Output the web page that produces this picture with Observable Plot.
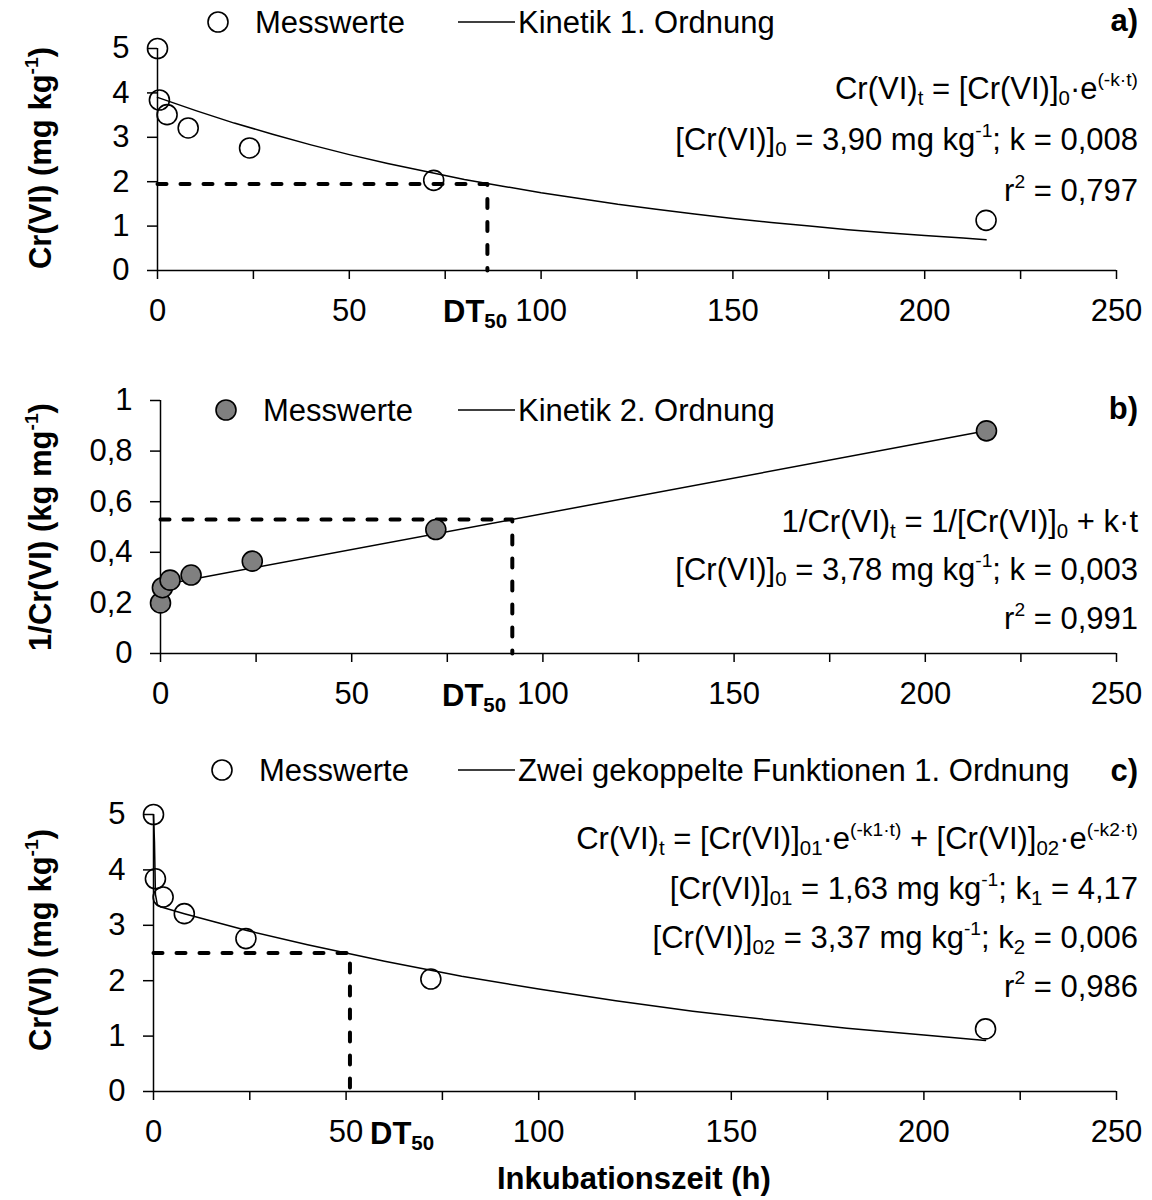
<!DOCTYPE html>
<html><head><meta charset="utf-8">
<script src="https://cdn.jsdelivr.net/npm/d3@7"></script>
<script src="https://cdn.jsdelivr.net/npm/@observablehq/plot@0.6"></script>
<style>
body{margin:0;background:#fff;}
#wrap{position:relative;width:1152px;height:1200px;font-family:"Liberation Sans",Arial,sans-serif;color:#000;overflow:hidden;}
.panel{position:absolute;left:0;}
.t{position:absolute;white-space:nowrap;font-size:31px;line-height:1;}
.b{font-weight:bold;}
.t sub{font-size:0.66em;vertical-align:-0.3em;line-height:0;}
.t sup{font-size:0.62em;vertical-align:0.66em;line-height:0;}
.ylab{position:absolute;white-space:nowrap;font-size:31px;font-weight:bold;line-height:1;transform:translate(-50%,-50%) rotate(-90deg);}
.ylab sup{font-size:0.62em;vertical-align:0.66em;line-height:0;}
.sym{position:absolute;}
</style></head>
<body><div id="wrap"></div>
<script>
// ---- data ----
const xTicks = [0, 25, 50, 75, 100, 125, 150, 175, 200, 225, 250];
const yTicksCr = [0, 1, 2, 3, 4, 5];
const yTicksInv = [0, 0.2, 0.4, 0.6, 0.8, 1];

// measured values (incubation time in h)
const timesMeas = [0, 0.5, 2.5, 8, 24, 72, 216];
const crMeas = [5.00, 3.84, 3.51, 3.21, 2.76, 2.03, 1.13];
const invCrMeas = [0.20, 0.26, 0.29, 0.31, 0.365, 0.49, 0.88];

// a) first order fit curve
const fitTimesA = [0, 10, 20, 30, 40, 50, 60, 70, 80, 90, 100, 110, 120, 130, 140, 150, 160, 170, 180, 190, 200, 210, 216];
const fitA = [3.90, 3.60, 3.32, 3.07, 2.83, 2.61, 2.41, 2.23, 2.05, 1.90, 1.75, 1.62, 1.49, 1.38, 1.27, 1.17, 1.08, 1.00, 0.92, 0.85, 0.79, 0.73, 0.69];
// b) second order fit line
const fitTimesB = [0, 216];
const fitB = [0.27, 0.88];
// c) two coupled first order functions
const fitTimesC = [0, 0.25, 0.5, 1, 2, 8, 16, 24, 40, 60, 80, 100, 120, 140, 160, 180, 200, 216];
const fitC = [5.00, 4.51, 3.56, 3.37, 3.33, 3.21, 3.06, 2.91, 2.65, 2.35, 2.08, 1.85, 1.64, 1.45, 1.29, 1.14, 1.02, 0.92];

// DT50 (time, level)
const dt50A = [86, 1.95];
const dt50B = [92, 0.53];
const dt50C = [51, 2.50];

const font = '"Liberation Sans", Arial, sans-serif';
const fmt = d => String(d).replace(".", ",");

function makePanel(o) {
  const meas = timesMeas.map((t, i) => ({t, v: o.meas[i]}));
  const fit = o.fitT.map((t, i) => ({t, v: o.fitV[i]}));
  const dt = [{t: 0, v: o.dt[1]}, {t: o.dt[0], v: o.dt[1]}, {t: o.dt[0], v: 0}];
  return Plot.plot({
    width: 1152, height: o.h,
    marginLeft: o.ml, marginRight: 36, marginTop: o.mt, marginBottom: o.h - o.y0,
    style: {fontFamily: font, fontSize: "31px", color: "#000", background: "transparent", overflow: "visible"},
    x: {domain: [0, 250]},
    y: {domain: o.yDomain},
    marks: [
      Plot.axisX({ticks: xTicks, tickFormat: d => d % 50 === 0 ? String(d) : "", tickSize: 9, tickPadding: 19, fontSize: 31, label: null, strokeWidth: 1.5}),
      Plot.axisY({ticks: o.yTicks, tickFormat: fmt, tickSize: 10, tickPadding: 18, fontSize: 31, label: null, strokeWidth: 1.5}),
      Plot.ruleY([0], {stroke: "#000", strokeWidth: 1.5}),
      Plot.ruleX([0], {stroke: "#000", strokeWidth: 1.5}),
      Plot.line(dt, {x: "t", y: "v", stroke: "#000", strokeWidth: 4, strokeDasharray: "9,14"}),
      Plot.line(fit, {x: "t", y: "v", stroke: "#000", strokeWidth: 1.5}),
      Plot.dot(meas, {x: "t", y: "v", r: 10, stroke: "#000", strokeWidth: 1.6, fill: o.fill})
    ]
  });
}

const wrap = document.getElementById("wrap");
const panels = [
  {top: 0, h: 340, ml: 157, mt: 48, y0: 270, yDomain: [0, 5], yTicks: yTicksCr, meas: crMeas, fitT: fitTimesA, fitV: fitA, dt: dt50A, fill: "none"},
  {top: 340, h: 380, ml: 160, mt: 60, y0: 313, yDomain: [0, 1], yTicks: yTicksInv, meas: invCrMeas, fitT: fitTimesB, fitV: fitB, dt: dt50B, fill: "#808080"},
  {top: 720, h: 480, ml: 153, mt: 94, y0: 371, yDomain: [0, 5], yTicks: yTicksCr, meas: crMeas, fitT: fitTimesC, fitV: fitC, dt: dt50C, fill: "none"}
];
for (const p of panels) {
  const svg = makePanel(p);
  svg.classList.add("panel");
  svg.style.top = p.top + "px";
  wrap.appendChild(svg);
}

// ---- text overlays ----
function txt(html, {left, right, cy, size = 31, bold = false}) {
  const d = document.createElement("div");
  d.className = "t" + (bold ? " b" : "");
  d.innerHTML = html;
  d.style.fontSize = size + "px";
  d.style.top = (cy - 0.49 * size) + "px";
  if (left != null) d.style.left = left + "px";
  if (right != null) d.style.right = (1152 - right) + "px";
  wrap.appendChild(d);
}
function ylab(html, cx, cy, size = 31) {
  const d = document.createElement("div");
  d.className = "ylab";
  d.innerHTML = html;
  d.style.fontSize = size + "px";
  d.style.left = cx + "px";
  d.style.top = cy + "px";
  wrap.appendChild(d);
}
const sym = d3.select(wrap).append("svg").attr("class", "sym").attr("width", 1152).attr("height", 1200)
  .style("left", "0px").style("top", "0px").style("pointer-events", "none");
function legend(cy, fill, label, cx) {
  sym.append("circle").attr("cx", cx).attr("cy", cy).attr("r", 10).attr("fill", fill).attr("stroke", "#000").attr("stroke-width", 1.6);
  sym.append("line").attr("x1", 458).attr("x2", 515).attr("y1", cy).attr("y2", cy).attr("stroke", "#000").attr("stroke-width", 1.5);
  txt("Messwerte", {left: cx + 37, cy});
  txt(label, {left: 518, cy});
}

// panel a
legend(22, "white", "Kinetik 1. Ordnung", 218);
txt("a)", {right: 1138, cy: 20, bold: true});
txt("Cr(VI)<sub>t</sub> = [Cr(VI)]<sub>0</sub>·e<sup>(-k·t)</sup>", {right: 1138, cy: 88});
txt("[Cr(VI)]<sub>0</sub> = 3,90 mg kg<sup>-1</sup>; k = 0,008", {right: 1138, cy: 139});
txt("r<sup>2</sup> = 0,797", {right: 1138, cy: 190});
txt("DT<sub>50</sub>", {left: 443, cy: 311, bold: true});
ylab("Cr(VI) (mg kg<sup>-1</sup>)", 40, 158);

// panel b
legend(410, "#808080", "Kinetik 2. Ordnung", 226);
txt("b)", {right: 1138, cy: 408, bold: true});
txt("1/Cr(VI)<sub>t</sub> = 1/[Cr(VI)]<sub>0</sub> + k·t", {right: 1138, cy: 521});
txt("[Cr(VI)]<sub>0</sub> = 3,78 mg kg<sup>-1</sup>; k = 0,003", {right: 1138, cy: 569});
txt("r<sup>2</sup> = 0,991", {right: 1138, cy: 618});
txt("DT<sub>50</sub>", {left: 442, cy: 695, bold: true});
ylab("1/Cr(VI) (kg mg<sup>-1</sup>)", 40, 527);

// panel c
legend(770, "white", "Zwei gekoppelte Funktionen 1. Ordnung", 222);
txt("c)", {right: 1138, cy: 770, bold: true});
txt("Cr(VI)<sub>t</sub> = [Cr(VI)]<sub>01</sub>·e<sup>(-k1·t)</sup> + [Cr(VI)]<sub>02</sub>·e<sup>(-k2·t)</sup>", {right: 1138, cy: 838});
txt("[Cr(VI)]<sub>01</sub> = 1,63 mg kg<sup>-1</sup>; k<sub>1</sub> = 4,17", {right: 1138, cy: 888});
txt("[Cr(VI)]<sub>02</sub> = 3,37 mg kg<sup>-1</sup>; k<sub>2</sub> = 0,006", {right: 1138, cy: 937});
txt("r<sup>2</sup> = 0,986", {right: 1138, cy: 986});
txt("DT<sub>50</sub>", {left: 370, cy: 1133, bold: true});
ylab("Cr(VI) (mg kg<sup>-1</sup>)", 40, 940);
txt("Inkubationszeit (h)", {left: 497, cy: 1178, bold: true, size: 31});
</script>
</body></html>
